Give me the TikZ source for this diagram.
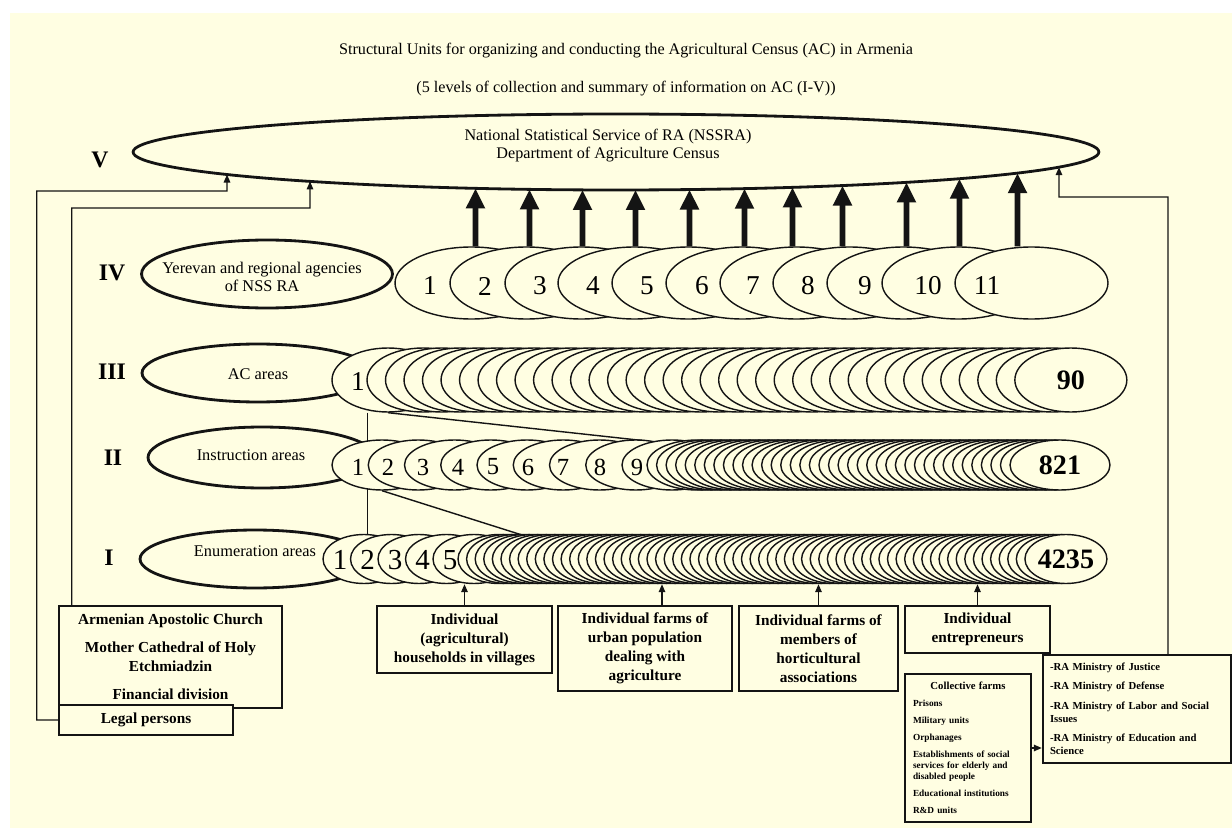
\documentclass[tikz,border=0pt]{standalone}
\usepackage{fontspec}
\setmainfont{Liberation Serif}
\usepackage{tikz}
\usetikzlibrary{shapes.geometric, arrows.meta, positioning, calc, intersections}
\definecolor{paper}{RGB}{255,254,226}
\definecolor{ink}{RGB}{20,20,20}
\pgfdeclarelayer{background}
\pgfsetlayers{background,main}
\tikzset{
  lvlell/.style={ellipse, draw=ink, fill=paper, line width=1.6pt, inner sep=0pt},
  numell/.style={ellipse, draw=ink, fill=paper, line width=0.8pt, inner sep=0pt},
  ivell/.style={numell, minimum width=3.06cm, minimum height=1.44cm},
  iiiell/.style={numell, minimum width=2.24cm, minimum height=1.28cm},
  iiell/.style={numell, minimum width=2cm, minimum height=1cm},
  iell/.style={numell, minimum width=1.64cm, minimum height=0.98cm},
  digit/.style={inner sep=0pt, font=\fontsize{#1}{#1}\selectfont},
  digit/.default=15.5,
  total/.style={inner sep=0pt, font=\fontsize{16}{16}\selectfont\bfseries},
  roman/.style={inner sep=0pt, font=\fontsize{13.5}{14}\selectfont\bfseries},
  heading/.style={inner sep=0pt, align=center, font=\fontsize{9.2}{10.3}\selectfont},
  lvltext/.style={inner sep=0pt, align=center, font=\fontsize{9.3}{10.3}\selectfont},
  srcbox/.style={rectangle, draw=ink, fill=paper, line width=1.4pt, inner sep=0pt,
    align=center, font=\fontsize{8.7}{10.8}\selectfont\bfseries},
  listbox/.style={rectangle, draw=ink, fill=paper, line width=1.4pt, inner ysep=0pt,
    align=left},
  fatarrow/.style={-{Triangle[length=4mm,width=3.6mm]}, line width=3.2pt, draw=ink},
  thinarrow/.style={-{Triangle[length=1.6mm,width=1.3mm]}, line width=0.8pt, draw=ink},
  link/.style={line width=0.8pt, draw=ink}
}

\begin{document}
\begin{tikzpicture}[x=0.02cm, y=-0.02cm]
  \useasboundingbox (0,0) rectangle (1232,828);
  \begin{pgfonlayer}{background}
    \fill[paper] (10,13) rectangle (1232,828);
  \end{pgfonlayer}

  % Titles
  \node[heading] (title) at (626,51) {Structural Units for organizing and conducting the Agricultural Census (AC) in Armenia};
  \node[heading] (subtitle) at (626,89) {(5 levels of collection and summary of information on AC (I-V))};

  % Level V
  \node[lvlell, name path=vring, minimum width=19.32cm, minimum height=1.52cm] (nss) at (616,152) {};
  \node[heading] (nsstxt) at (608,146) {National Statistical Service of RA (NSSRA)\\Department of Agriculture Census};
  \node[roman] (lvV) at (100,160) {V};

  % Level IV
  \node[lvlell, minimum width=5.02cm, minimum height=1.36cm] (yerevan) at (267,274) {};
  \node[lvltext] (yerevantxt) at (262,277) {Yerevan and regional agencies\\of NSS RA};
  \node[roman] (lvIV) at (112,273) {IV};
  \foreach \k/\lx/\tx in {1/395/35, 2/450/35, 3/505/35, 4/558/35, 5/612/35, 6/666/36,
      7/720/33, 8/773/35, 9/827/38, 10/882/46, 11/955/32} {
    \node[ivell] (iv\k) at (\lx+76.5,283) {};
    \node[digit] (ivd\k) at (\lx+\tx,286) {\k};
  }

  % Level III
  \node[lvlell, minimum width=4.64cm, minimum height=1.16cm] (acareas) at (258,373) {};
  \node[lvltext] (acareastxt) at (258,374) {AC areas};
  \node[roman] (lvIII) at (112,372) {III};
  \node[iiiell] (iii1) at (388,380) {};
  \node[digit] (iiid1) at (358,382) {1};
  \foreach \k in {2,...,37}
    \node[iiiell] (iii\k) at ({423+18.51*(\k-2)},380) {};
  \node[total] (iiitot) at (iii37.center) {90};

  % Level II
  \node[lvlell, minimum width=4.56cm, minimum height=1.22cm] (instr) at (262,457.5) {};
  \node[lvltext] (instrtxt) at (251,455) {Instruction areas};
  \node[roman] (lvII) at (113,458) {II};
  \foreach \k/\tx in {1/358, 2/388, 3/423, 4/458, 5/493, 6/528, 7/563, 8/600, 9/637} {
    \node[iiell] (ii\k) at ({382+36.25*(\k-1)},465) {};
    \node[digit=14] (iid\k) at (\tx,467) {\k};
  }
  \foreach \k in {10,...,48}
    \node[iiell] (ii\k) at ({697+9.553*(\k-10)},465) {};
  \node[total] (iitot) at (ii48.center) {821};

  % Level I
  \node[lvlell, minimum width=4.6cm, minimum height=1.16cm] (enum) at (255,559) {};
  \node[lvltext] (enumtxt) at (255,551) {Enumeration areas};
  \node[roman] (lvI) at (109,558) {I};
  \foreach \k in {1,...,5} {
    \node[iell] (i\k) at ({364+27.5*(\k-1)},559) {};
    \node[digit=16.5] (id\k) at ({340+27.5*(\k-1)},560) {\k};
  }
  \foreach \k in {6,...,72}
    \node[iell] (i\k) at ({499+8.59*(\k-6)},559) {};
  \node[total] (itot) at (i72.center) {4235};

  % links between levels
  \coordinate (iisplit) at (647,441);
  \coordinate (isplit) at (522,535);
  \begin{pgfonlayer}{background}
    \draw[link] (iii1.south -| ii2.west) -- (ii2.west |- i1.center);
    \draw[link] (iii1.south) -- (iisplit);
    \draw[link] (ii1.south) -- (isplit);
  \end{pgfonlayer}

  % IV -> V
  \foreach \k/\dx in {1/4, 2/3, 3/1, 4/1, 5/1, 6/2, 7/-4, 8/-7, 9/3, 10/1, 11/-14} {
    \path[name path=up\k] ($(iv\k.north)+(\dx,0)$) -- ++(0,-85);
    \draw[fatarrow, name intersections={of=vring and up\k}] ($(iv\k.north)+(\dx,0)$) -- (intersection-1);
  }

  % Sources of level I
  \node[srcbox, minimum width=3.5cm, minimum height=1.34cm] (house) at (464.5,639.5) {Individual\\(agricultural)\\households in villages};
  \node[srcbox, minimum width=3.48cm, minimum height=1.7cm] (urban) at (645,648.5) {Individual farms of\\urban population\\dealing with\\agriculture};
  \node[srcbox, minimum width=3.18cm, minimum height=1.7cm] (horti) at (818.5,648.5) {Individual farms of\\members of\\horticultural\\associations};
  \node[srcbox, minimum width=2.9cm, minimum height=0.94cm] (entre) at (977.5,629.5) {Individual\\entrepreneurs};
  \draw[thinarrow] (house.north) -- (house.north |- i1.south);
  \draw[thinarrow] ([xshift=0.34cm]urban.north) -- ([xshift=0.34cm]urban.north |- i1.south);
  \draw[thinarrow] (horti.north) -- (horti.north |- i1.south);
  \draw[thinarrow] (entre.north) -- (entre.north |- i1.south);

  % Legal persons
  \node[srcbox, minimum width=4.46cm, minimum height=2.04cm] (church) at (170.5,657)
    {Armenian Apostolic Church\\[5.2pt]Mother Cathedral of Holy\\Etchmiadzin\\[5.2pt]Financial division};
  \node[srcbox, minimum width=3.48cm, minimum height=0.6cm] (legal) at (146,720) {Legal persons};
  \coordinate (lbend) at (227,191);
  \coordinate (cbend) at (310,208);
  \path[name path=lup] (lbend) -- ++(0,-40);
  \path[name path=cup] (cbend) -- ++(0,-40);
  \draw[thinarrow, name intersections={of=lup and vring, by=ltip}] (legal.west) -- ++(-21,0) |- (lbend) -- (ltip);
  \draw[thinarrow, name intersections={of=cup and vring, by=ctip}] ([xshift=0.28cm]church.north west) |- (cbend) -- (ctip);

  % Collective farms and ministries
  \node[listbox, text width=2.2cm, inner xsep=0.16cm, minimum height=2.96cm,
    font=\fontsize{5.3}{6.4}\selectfont\bfseries] (coll) at (968,748)
    {\makebox[\linewidth]{\fontsize{6.1}{7}\selectfont Collective farms}\\[3pt]
     Prisons\\[3.3pt]
     Military units\\[3.3pt]
     Orphanages\\[3.3pt]
     Establishments of social\\services for elderly and\\disabled people\\[3.3pt]
     Educational institutions\\[3.3pt]
     R\&D units};
  \node[listbox, text width=3.48cm, inner xsep=0.14cm, minimum height=2.16cm,
    font=\fontsize{6.1}{7.4}\selectfont\bfseries] (mins) at (1137,709)
    {-RA Ministry of Justice\\[3.7pt]
     -RA Ministry of Defense\\[3.7pt]
     -RA Ministry of Labor and Social\\Issues\\[3.7pt]
     -RA Ministry of Education and\\Science};
  \draw[thinarrow] (coll.east) -- (coll.east -| mins.west);
  \coordinate (rbend) at (1059,197);
  \path[name path=rup] (rbend) -- ++(0,-40);
  \draw[thinarrow, name intersections={of=rup and vring, by=rtip}] ([xshift=0.62cm]mins.north) |- (rbend) -- (rtip);
\end{tikzpicture}
\end{document}
